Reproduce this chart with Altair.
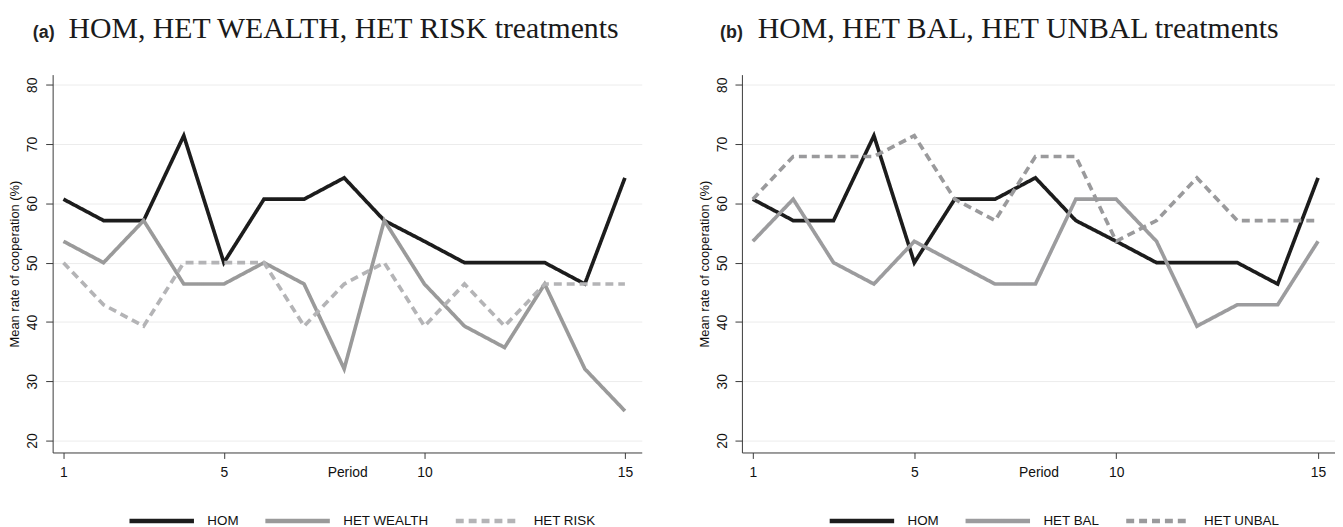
import altair as alt
import pandas as pd

periods = list(range(1, 16))

# Panel (a)
hom = [60.7, 57.1, 57.1, 71.4, 50.0, 60.7, 60.7, 64.3, 57.1, 53.6, 50.0, 50.0, 50.0, 46.4, 64.3]
het_wealth = [53.6, 50.0, 57.1, 46.4, 46.4, 50.0, 46.4, 32.1, 57.1, 46.4, 39.3, 35.7, 46.4, 32.1, 25.0]
het_risk = [50.0, 42.9, 39.3, 50.0, 50.0, 50.0, 39.3, 46.4, 50.0, 39.3, 46.4, 39.3, 46.4, 46.4, 46.4]

# Panel (b)
het_bal = [53.6, 60.7, 50.0, 46.4, 53.6, 50.0, 46.4, 46.4, 60.7, 60.7, 53.6, 39.3, 42.9, 42.9, 53.6]
het_unbal = [60.7, 67.9, 67.9, 67.9, 71.4, 60.7, 57.1, 67.9, 67.9, 53.6, 57.1, 64.3, 57.1, 57.1, 57.1]

names_a = ["HOM", "HET WEALTH", "HET RISK"]
names_b = ["HOM", "HET BAL", "HET UNBAL"]
colors_a = ["#1c1c1c", "#9a9a9a", "#b4b4b6"]
colors_b = ["#1c1c1c", "#9c9c9e", "#9a9a9c"]
dashes = [[1, 0], [1, 0], [8, 5]]

titles = {
    "a": ("(a)", "HOM, HET WEALTH, HET RISK treatments"),
    "b": ("(b)", "HOM, HET BAL, HET UNBAL treatments"),
}

x_ticks = [1, 5, 10, 15]
y_ticks = [20, 30, 40, 50, 60, 70, 80]

FONT = "Liberation Sans"
AXIS_COLOR = "#3a3a3a"


def panel(key, names, series, colors, legend_x, width, letter_dx):
    letter, title_text = titles[key]
    rows = []
    for name, vals in zip(names, series):
        for p, v in zip(periods, vals):
            rows.append({"Period": p, "Value": v, "Series": name})
    df = pd.DataFrame(rows)

    legend = alt.Legend(
        orient="none", legendX=legend_x, legendY=415, direction="horizontal",
        title=None, symbolType="stroke", symbolSize=4225, symbolStrokeWidth=4.5,
        labelFont=FONT, labelFontSize=13.5, labelColor="#111111",
        labelOffset=11, columnPadding=17, symbolOpacity=1, padding=0,
    )

    lines = alt.Chart(df).mark_line(strokeWidth=3.7, strokeJoin="miter", strokeCap="butt").encode(
        x=alt.X("Period:Q",
                scale=alt.Scale(domain=[0.73, 15.42], nice=False, zero=False),
                axis=alt.Axis(values=x_ticks, grid=False, tickSize=6, tickColor=AXIS_COLOR,
                              domainColor=AXIS_COLOR, labelFont=FONT, labelFontSize=14,
                              labelColor="#111111", labelPadding=7, title="Period",
                              titleFont=FONT, titleFontSize=14, titleFontWeight="normal",
                              titleColor="#111111", titleY=20, titleBaseline="middle")),
        y=alt.Y("Value:Q",
                scale=alt.Scale(domain=[18, 81.7], nice=False, zero=False),
                axis=alt.Axis(values=y_ticks, grid=True, gridColor="#ececec", gridWidth=1,
                              tickSize=7, tickColor=AXIS_COLOR, domainColor=AXIS_COLOR,
                              labelAngle=270, labelFont=FONT, labelFontSize=14,
                              labelColor="#111111", labelPadding=6,
                              title="Mean rate of cooperation (%)", titleFont=FONT,
                              titleFontSize=13, titleFontWeight="normal",
                              titleColor="#111111", titlePadding=4)),
        color=alt.Color("Series:N", scale=alt.Scale(domain=names, range=colors), legend=legend),
        strokeDash=alt.StrokeDash("Series:N", scale=alt.Scale(domain=names, range=dashes), legend=legend),
    )

    tdf = pd.DataFrame({"letter": [letter], "title": [title_text]})
    lab = alt.Chart(tdf).mark_text(
        align="left", baseline="alphabetic", font=FONT, fontWeight="bold",
        fontSize=18, color="#222222"
    ).encode(x=alt.value(letter_dx), y=alt.value(-37), text="letter:N")
    ttl = alt.Chart(tdf).mark_text(
        align="left", baseline="alphabetic", font="Liberation Serif",
        fontSize=30, color="#1a1a1a"
    ).encode(x=alt.value(16), y=alt.value(-37), text="title:N")

    return alt.layer(lines, lab, ttl).properties(width=width, height=381).resolve_scale(
        color="independent", strokeDash="independent")


pa = panel("a", names_a, [hom, het_wealth, het_risk], colors_a, 75, 594, -20)
pb = panel("b", names_b, [hom, het_bal, het_unbal], colors_b, 86, 598, -22)

chart = alt.hconcat(pa, pb, spacing=56).resolve_scale(
    color="independent", strokeDash="independent"
).resolve_legend(color="independent", strokeDash="independent").properties(
    padding={"left": 0, "top": 4, "right": 0, "bottom": 0}
).configure_view(stroke=None)

chart.save("out.html", embed_options={"renderer": "svg", "actions": False})
